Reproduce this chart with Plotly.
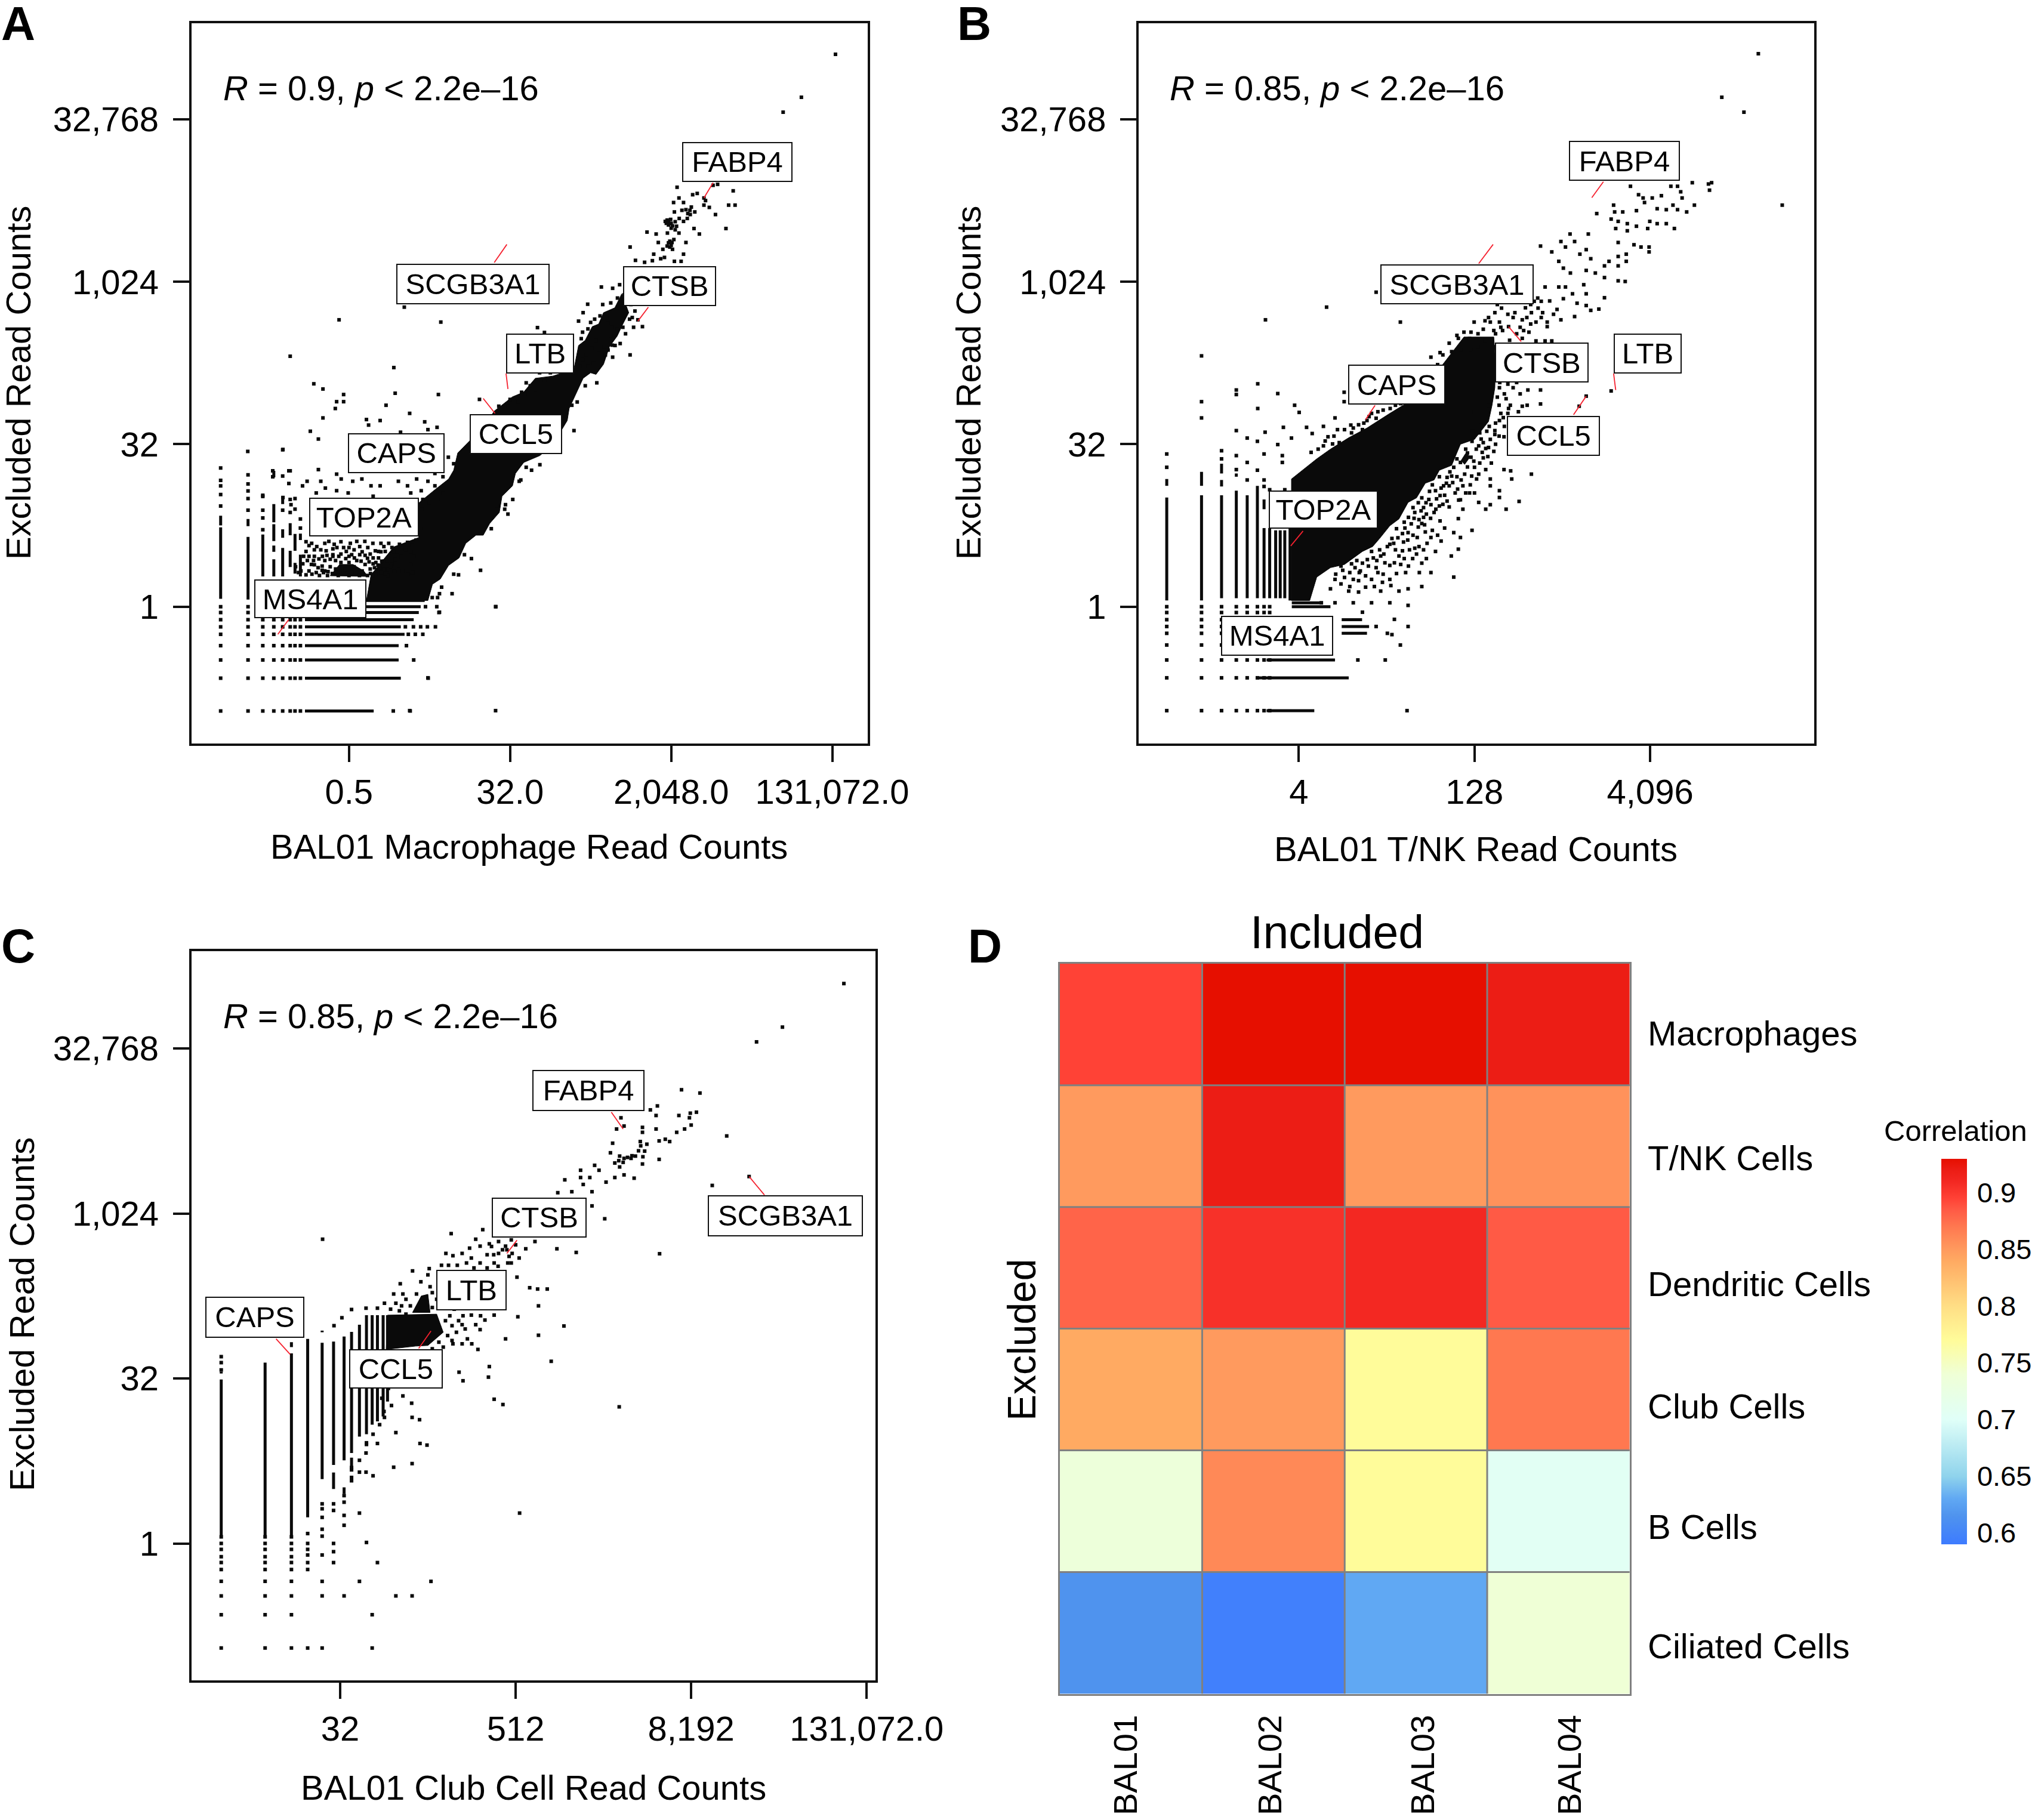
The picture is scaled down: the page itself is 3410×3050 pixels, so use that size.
import plotly.graph_objects as go

W, H = 3410, 3050
FONT = "Liberation Sans"
INK = "#0a0a0a"

# ---------- DATA (log2 read counts) ----------
a_cloud = [(-0.35,0.19),(1.94,0.19),(2.11,0.69),(2.4,0.85),(2.71,1.27),(3.1,1.5),(3.35,1.95),(3.73,2.2),(4.0,2.2),(4.24,2.56),(4.6,2.9),(4.7,3.4),(5.09,3.72),(5.2,4.1),(5.51,4.44),(6.11,4.65),
 (6.6,5.0),(7.13,5.73),(7.2,6.1),(7.47,6.6),(7.72,7.03),(8.0,7.2),(8.2,7.15),(8.48,7.46),(8.7,8.0),(8.99,8.33),(9.2,8.7),(9.42,9.05),(9.16,9.63),(8.9,9.2),(8.48,9.05),(8.3,8.7),(8.06,8.62),(7.8,8.2),(7.55,8.04),
 (7.38,7.32),(6.6,7.1),(5.94,7.03),(5.5,6.6),(5.09,6.46),(4.41,6.02),(4.0,5.5),(3.56,5.16),(3.05,4.73),(2.9,4.2),(2.71,3.93),(2.2,3.6),(1.52,3.14),(1.6,2.13),(0.67,1.84),(-0.18,0.98)]
a_patch = [(-1.7,0.95),(-1.35,1.3),(-0.85,1.3),(-0.45,1.1),(-0.3,0.93)]
a_points = [(17.12,17.0),(15.85,15.68),(15.17,15.22),(11.22,12.91),(12.56,12.97),(12.73,13.0),(13.31,12.8),(11.8,12.68),(11.97,12.72),
 (11.29,12.58),(12.22,12.58),(11.46,12.44),(11.09,12.44),(12.22,12.36),(12.42,12.29),(13.14,12.36),(13.38,12.36),(12.65,12.07),
 (11.88,12.15),(11.55,12.22),(11.12,12.15),(11.71,12.07),(10.78,11.86),(10.95,11.79),(11.2,11.71),(11.46,11.86),(13.04,11.64),
 (12.05,11.47),(11.85,11.64),(10.1,11.53),(10.44,11.47),(10.86,11.5),(11.29,11.5),(11.03,11.21),(11.55,11.21),(10.52,11.21),
 (10.69,11.0),(10.95,11.07),(9.47,11.07),(10.35,10.85),(11.46,10.85),(9.67,10.66),(10.01,10.6),(10.61,10.71),(11.12,10.63),(11.37,10.63),
 (10.85,11.9),(10.9,11.75),(11.0,11.65),(11.1,11.3),(10.9,11.2),(11.3,11.95),(11.6,11.95),(11.4,12.2),(10.75,10.75),(10.3,10.65),
 (10.82,11.8),(10.9,11.86),(11.0,11.8),(11.05,11.72),(10.98,11.92),(11.15,11.85),(11.15,11.6),(10.95,11.25),(11.0,11.12),(10.85,11.1),(11.05,11.0),(11.7,12.2),(11.62,12.1),(12.28,12.5),(11.75,12.3),
 (-1.37,8.83),(2.42,8.76),(1.06,9.22),(-3.19,7.71),(0.67,7.36),(-2.31,6.86),(-1.97,6.7),(-1.2,6.53),(-1.46,6.31),(-1.2,6.31),(-1.51,6.1),
 (0.72,6.57),(2.33,6.53),(0.38,6.2),(1.26,5.95),(-1.97,5.81),(-0.35,5.76),(0.16,5.73),(-0.27,5.59),(1.82,5.69),(1.94,5.45),(2.28,5.52),
 (-2.44,5.4),(0.92,5.37),(-2.14,5.16),(-3.46,4.84),(-4.77,4.78),(6.02,8.59),(6.28,8.44),(8.4,9.84),(8.82,9.8),(9.08,9.91),(7.89,9.31),
 (7.72,9.05),(7.55,8.79),(9.76,8.83),(9.93,8.62),(9.47,7.75),(8.82,7.68),(8.91,8.04),(8.23,6.89),(7.38,5.42),(5.6,4.29),(6.11,4.37),
 (5.34,3.86),(4.83,3.14),(4.92,2.85),(3.56,1.48),(3.9,1.12),(3.08,0.98),(2.84,0.4),(2.37,0.4),(2.37,-0.17),(4.46,0),(1.94,-2.19),
 (4.46,-3.2),(1.26,-3.2),(3.86,6.38),(5.0,6.38),(5.43,6.6),(5.6,6.89),(5.94,6.67),(6.28,6.96),(4.92,6.17),(4.58,6.17),
 (8.6,8.9),(8.8,8.6),(9.2,8.9),(9.5,9.3),(9.0,9.2),(8.2,8.2),(8.5,8.0),(8.8,8.05),(8.1,7.5),(7.9,7.4),(7.7,7.6),(8.3,7.9),(9.2,8.6),
 (8.65,8.72),(8.35,8.95),(8.15,8.85),(8.0,8.75),(7.7,8.45),(7.65,8.25),(7.9,8.55),(8.05,7.95),(7.85,7.75),(7.6,7.4),(8.55,7.75),(8.65,7.9),(8.75,8.35),(9.0,8.55),(9.3,8.4),(9.45,8.85),
 (9.65,9.1),(9.55,8.9),(9.25,9.6),(9.0,9.5),(8.75,9.35),(8.45,9.3),(9.1,8.1),(9.6,8.6),(5.3,6.3),(5.55,6.55),(5.75,6.8),(6.1,7.2),(6.5,7.2),(6.75,7.3),(7.1,7.45),
 (7.8,6.8),(7.5,6.3),(7.3,6.2),(6.9,5.6),(6.5,5.2),(5.8,4.2),(5.4,3.9),(5.1,3.3),(4.8,3.0),(4.5,3.1),(4.3,2.4),(3.3,1.6),(2.9,1.0),
 (-1.46,4.08),(-2.14,4.22),(-1.29,3.93),(-2.05,3.86),(-2.56,3.86),(-2.73,3.72),(-0.86,3.86),(-0.52,3.93),(-0.18,3.72),(0.16,3.72),
 (0.84,3.86),(1.18,3.72),(1.52,3.93),(1.94,3.86),(2.2,3.72),(1.69,3.57),(-1.88,3.65),(-1.46,3.57),(-1.03,3.5),(-2.22,3.5),(-3.24,3.79),
 (-3.24,4.18),(-3.84,4.18),(-3.84,4.0),(-3.46,3.36),(-4.21,3.43),(-3.16,3.14),(1.3,3.5),(1.75,3.3),(2.0,3.2),(2.3,3.3),(2.5,3.5),
 (1.9,4.3),(2.2,4.1),(2.5,4.0),(2.4,4.4),(2.7,4.6),(2.9,4.4),(1.7,3.0),(1.55,2.6),(1.8,2.4),
 (-2.39,1.95),(-2.2,1.85),(-2.49,1.88),(-2.29,1.75),(-2.49,1.55),(-2.29,1.55),(-2.69,1.55),(-1.99,1.55),(-1.9,1.42),(-1.7,1.46),(-1.5,1.42),
 (-1.3,1.62),(-1.0,1.82),(-0.81,1.75),(-1.2,1.82),(-1.45,1.82),(-1.75,2.01),(-0.71,2.01),(-0.41,2.01),(-0.11,1.95),(0.19,1.95),(0.48,1.95),
 (0.88,1.92),(1.18,1.98),(-0.51,1.69),(-0.21,1.62),(0.19,1.69),(0.68,1.69),(-1.0,1.55),(-0.71,1.42),(-0.31,1.49),(0.0,1.36),(-1.3,1.36),
 (-1.0,1.36),(-1.7,1.23),(-1.5,1.16),(-1.2,1.1),(-0.81,1.23),(-0.51,1.1),(-0.21,1.16),(-1.9,1.1),(-1.8,0.96),(-1.4,0.96),(-1.0,0.96),
 (-0.61,0.96),(-0.31,0.96),(0.0,1.0),(0.43,0.96),(-2.29,1.29),(-2.49,1.1),(-2.1,0.96),(-2.79,1.1),(-2.99,1.23),(0.3,1.4),(0.6,1.3),(0.1,1.7),
 (1.2,1.0),(1.4,3.2),(0.9,3.0),(0.4,3.3),(-0.1,3.4),(-0.6,3.2),(-1.15,1.15),(-1.6,1.6),(-0.9,1.05),(-0.4,1.3),
 (-2.05,1.75),(-1.85,1.72),(-1.6,1.78),(-1.1,1.7),(-0.9,1.6),(-0.6,1.6),(-0.1,1.5),(0.1,1.5),(0.35,1.7),(0.5,1.55),(0.8,1.7),(-2.6,1.7),(-2.4,1.3),(-2.15,1.2),(-2.0,1.25),(-1.95,1.05),
 (0.15,1.2),(0.3,1.15),(0.45,1.15),(0.55,1.1),(-0.05,1.2),(0.2,1.05),(1.0,1.1),(1.05,1.5),(1.25,1.5),(1.3,1.3),(1.1,1.75),(1.35,1.9),(1.4,2.5),(1.45,2.9),(1.2,2.8),(1.35,2.3),
 (-2.55,1.42),(-2.32,1.42),(-2.12,1.47),(-1.82,1.58),(-1.6,1.55),(-1.38,1.55),(-1.12,1.48),(-0.8,1.5),(-0.55,1.4),(-0.4,1.58),(-0.25,1.38),(-0.1,1.32),(0.08,1.28),(0.22,1.4),(0.42,1.42),(0.72,1.45),
 (0.85,1.25),(0.7,1.08),(0.55,1.25),(0.35,1.02),(-0.2,1.02),(-0.12,0.96),(-1.62,1.02),(-1.78,1.08),(-2.0,1.12),(-2.22,1.05),(-2.38,1.0),(-2.6,0.98),(-2.72,1.32),(-2.88,1.05),(-2.6,2.0),(-1.9,1.95),
 (-1.55,1.92),(-1.3,2.0),(-0.95,1.95),(-0.6,1.85),(-0.3,1.82),(-0.02,1.72),(0.3,1.85),(0.6,1.82),(0.95,1.55),(1.3,1.7),(1.42,1.55),(1.38,1.05),(1.5,2.05),
 (0.65,-3.21),(1.28,-3.21),(1.95,-2.2),(1.41,-1.64),(1.14,-1.2),(1.21,-0.85),(1.47,-0.85),(1.75,-0.85),(1.1,-0.62),(1.4,-0.62),(1.67,-0.62),
 (1.92,-0.62),(2.22,-0.62),(2.35,-0.18),(1.85,0),(2.27,0),(4.47,0),(2.1,0.28),(2.3,0.28),(2.45,0.6)]
a_col_x = [-5.78,-4.76,-4.21,-3.80,-3.47,-3.19,-3.01,-2.81]
a_row_y = [-3.21,-2.2,-1.64,-1.2,-0.85,-0.62,-0.4,-0.18,0.0]
a_col_spans = [[(0.24,2.44),(2.5,2.8)],[(0.22,2.15),(2.48,2.7)],[(0.93,2.22)],[(0.93,1.46),(1.69,1.88),(2.02,2.54),(2.6,3.16),(3.98,4.18)],
 [(0.93,1.81),(2.12,2.38),(3.16,3.39)],[(1.22,1.72),(2.2,2.57)],[(1.02,1.35),(1.72,2.24)],[(0.93,1.6),(2.05,2.25)]]
a_col_dots = [(-5.78,3.1),(-5.78,3.45),(-5.78,3.72),(-5.78,3.89),(-5.78,4.27),(-4.76,2.97),(-4.76,3.33),(-4.76,3.56),(-4.76,3.78),(-4.76,4.06),
 (-4.21,2.37),(-4.21,2.73),(-4.21,2.97),(-4.21,3.39),(-3.47,4.02),(-3.47,4.83),(-3.47,2.97),(-3.19,4.18),(-3.19,3.3),(-3.19,2.9),(-3.01,3.33),(-3.01,3.0),(-2.81,2.7),(-2.81,2.42)]
a_row_ends = [-0.08,0.93,0.85,0.85,1.07,0.93,1.41,1.6,1.67]

b_cloud = [(1.79,0.19),(2.31,0.19),(2.51,0.91),(2.9,1.2),(3.3,1.3),(3.81,1.7),(4.1,1.85),(4.3,2.1),(4.59,2.49),(4.85,2.7),(5.11,3.21),(5.35,3.35),(5.6,3.8),(5.85,3.9),(6.0,4.2),(6.35,4.35),(6.6,5.0),(7.0,5.15),(7.4,5.7),(7.5,6.2),(7.58,6.74),
 (7.6,7.5),(7.55,8.3),(6.7,8.3),(6.2,7.6),(5.7,6.9),(5.2,6.35),(4.59,5.95),(3.94,5.5),(3.42,5.2),(2.9,4.85),(2.51,4.55),(1.79,3.93)]
b_patch = [(6.62,4.5),(6.75,4.72),(6.88,4.62),(6.72,4.38)]
b_points = [(15.08,17.02),(14.04,15.68),(14.67,15.22),(15.76,12.36),(13.66,13.01),(13.75,13.05),(13.69,12.82),(13.2,13.05),(12.78,12.94),(12.59,12.94),
 (12.87,12.77),(12.91,12.58),(11.44,12.94),(11.67,12.68),(11.8,12.58),(11.84,12.44),(12.06,12.58),(12.32,12.65),(13.26,12.36),(12.65,12.36),
 (12.46,12.22),(12.2,12.25),(12.78,12.22),(13.04,12.15),(11.61,12.19),(10.96,12.36),(10.99,12.15),(11.22,12.15),(10.48,12.1),(10.89,11.93),
 (11.09,11.86),(11.35,11.79),(11.61,11.71),(11.93,11.64),(12.2,11.79),(12.46,11.79),(12.69,11.64),(11.99,11.86),(11.35,11.57),(11.02,11.64),
 (11.09,11.21),(11.54,11.14),(11.74,11.07),(11.97,11.07),(11.97,10.92),(10.24,11.47),(9.72,11.47),(9.46,11.24),(9.85,11.24),(8.88,11.1),(9.2,10.92),
 (9.59,11.07),(10.18,10.99),(10.0,10.85),(10.31,10.71),(11.32,10.85),(11.09,10.78),(10.83,10.63),(9.4,10.63),(9.53,10.42),(10.7,10.49),(11.09,10.49),
 (11.32,10.63),(10.18,10.35),(10.44,10.27),(9.73,10.27),(11.09,10.03),(11.29,10.01),(10.7,10.13),(9.4,9.84),(9.59,9.84),(9.01,9.84),(10.11,9.91),
 (9.79,9.63),(10.18,9.63),(10.7,9.51),(9.53,9.48),(9.14,9.41),(9.92,9.34),(10.18,9.27),(10.54,9.16),(10.31,9.12),(9.85,8.93),(9.46,8.83),(9.07,8.76),
 (8.81,9.19),(8.62,9.05),(8.49,8.9),(8.94,9.05),(9.07,8.62),(8.75,8.76),(8.36,8.83),(8.1,8.9),(7.77,9.19),(7.58,9.05),(7.45,8.76),(7.71,8.76),(6.99,8.76),
 (7.25,8.54),(7.97,8.62),(8.36,8.26),(8.75,8.18),(9.01,8.18),(9.2,8.18),(2.79,9.22),(1.05,8.83),(4.89,8.76),(4.2,9.68),(-0.77,7.72),(-0.77,6.31),
 (-0.77,5.81),(0.22,6.67),(0.22,6.53),(0.83,6.86),(1.4,6.56),(0.83,6.1),(1.88,6.2),(2.01,5.98),(0.22,5.42),(0.53,5.19),(0.82,5.09),(1.04,5.37),
 (1.56,5.52),(2.22,5.52),(2.38,5.33),(2.7,5.55),(1.4,4.99),(1.79,5.19),(1.01,4.7),(1.53,4.65),(1.53,4.44),(3.29,6.6),(3.29,6.31),(3.48,5.59),(3.03,5.81),
 (2.83,5.23),(3.68,5.23),(3.81,5.45),(4.07,5.95),(3.94,5.73),(2.96,5.01),(5.76,7.68),(6.28,8.11),(6.54,8.26),(6.86,8.26),(6.02,7.82),(8.1,6.74),(8.52,6.67),
 (8.88,6.67),(8.88,6.24),(8.36,6.17),(7.97,6.1),(10.18,6.48),(9.98,6.17),(10.89,6.64),(7.71,6.74),(7.71,5.73),(7.58,5.3),(7.84,5.23),(7.19,5.59),(7.19,5.16),
 (6.93,5.09),(7.32,4.87),(6.8,4.73),(7.25,4.58),(7.0,4.29),(6.6,4.44),(7.32,4.22),(7.84,4.22),(8.03,4.18),(8.62,4.08),(7.45,3.93),(8.06,3.93),(7.06,3.93),
 (6.41,4.29),(6.28,3.72),(6.67,3.72),(7.45,3.72),(7.0,3.5),(7.71,3.57),(6.86,3.5),(7.71,3.36),(7.45,3.14),(8.27,3.24),(7.9,3.0),(7.32,3.0),(7.12,3.21),
 (6.6,3.29),(6.15,3.43),(5.89,3.57),(5.76,3.14),(6.28,3.07),(6.67,3.0),(6.54,2.71),(5.63,2.85),(6.02,2.64),(5.5,2.56),(6.15,2.42),(6.93,2.35),(6.41,2.28),
 (6.6,2.13),(5.11,2.28),(5.76,2.13),(5.37,2.13),(4.98,1.99),(4.59,1.92),(6.54,1.77),(6.34,1.56),(5.89,1.7),(5.63,1.48),(5.5,1.34),(5.24,1.48),(4.85,1.56),
 (4.33,1.56),(4.07,1.7),(3.81,1.34),(4.2,1.2),(4.59,1.27),(5.04,1.05),(5.43,1.05),(5.76,1.05),(6.41,0.91),(4.59,0.84),(4.07,0.84),(3.55,0.84),(3.03,0.84),
 (5.11,0.55),(5.5,0.62),(4.85,0.48),(4.33,0.48),(3.42,0.48),(2.9,0.55),(5.11,0.04),(4.59,0.12),(4.07,0.12),(3.55,0.12),(3.03,0.12),(2.64,0.12),(3.81,-0.17),
 (4.72,-0.39),(5.11,-0.61),(4.2,-0.61),(4.52,-0.82),(4.65,-0.86),(4.89,-1.18),(4.46,-1.64),(3.68,-1.64),(5.08,-3.2),
 (3.6,1.2),(3.3,0.9),(3.9,0.6),(4.4,1.0),(4.9,1.3),(5.3,1.8),(5.6,2.3),(5.0,2.6),(5.3,2.9),(5.7,3.3),(6.0,3.1),(6.2,3.8),(6.5,4.0),(6.8,4.3),(7.4,4.9),(7.6,5.0),
 (7.0,6.0),(7.4,6.2),(7.9,6.4),(7.6,7.0),(7.8,7.2),(8.0,7.5),(7.9,7.9),(8.0,8.2),(7.6,8.0),(7.3,8.2),(7.1,8.0),(6.9,7.9),(6.6,7.9),(7.6,8.4),(8.2,8.4),(7.8,8.5),
 (3.2,1.25),(3.45,1.05),(3.75,1.1),(3.95,1.45),(4.3,1.75),(4.65,2.1),(4.75,1.75),(4.95,2.25),(5.15,1.75),(5.4,2.45),(5.2,2.55),(5.55,2.75),(5.4,3.2),(5.55,3.05),(5.9,3.0),(5.8,3.75),
 (6.05,3.65),(6.0,4.0),(6.3,4.15),(6.45,3.5),(6.5,4.55),(6.75,4.85),(6.9,4.6),(7.05,4.85),(6.95,5.4),(7.15,5.35),(7.35,5.4),(7.45,5.15),(7.6,5.65),(7.75,5.95),(7.85,5.55),(7.7,6.2),
 (7.65,6.45),(7.85,6.55),(7.95,6.85),(7.72,6.9),(8.2,6.9),(8.05,7.1),(8.3,6.55),(8.5,6.2),(8.25,6.0),(8.1,5.75),
 (2.35,4.75),(2.55,4.85),(2.7,4.95),(2.75,5.1),(3.0,5.25),(3.15,5.05),(3.1,5.45),(3.3,5.45),(3.55,5.5),(3.5,5.35),(3.7,5.6),(3.85,5.65),(4.0,5.85),(4.2,5.8),(4.25,6.0),(4.4,6.05),(4.6,6.1),
 (4.75,6.2),(4.9,6.25),(5.1,6.4),(5.3,6.6),(5.45,6.85),(5.6,7.05),(5.85,7.2),(5.95,7.45),(6.1,7.75),(6.35,7.85),(6.5,8.35),(6.7,8.45),(6.9,8.45),(7.1,8.4),
 (7.4,8.9),(7.55,8.5),(7.95,9.0),(8.15,9.05),(8.3,8.6),(8.45,9.2),(8.6,9.3),(8.7,9.4),(8.8,9.5),(8.9,9.4),(7.65,9.3),(7.85,9.45),(7.75,8.6),(7.3,8.8),(8.4,8.5),(8.55,8.45),(8.6,8.7),(8.9,8.9),(9.25,9.0),(9.35,9.15),
 (3.05,1.0),(3.25,1.12),(3.5,1.32),(3.65,1.42),(3.72,1.05),(3.98,1.25),(4.12,1.5),(4.22,1.42),(4.42,1.62),(4.52,1.85),(4.45,1.35),(4.7,1.95),(4.82,2.12),(4.78,2.4),(5.02,2.42),(4.95,1.72),
 (5.1,2.05),(5.25,2.2),(5.12,2.75),(5.28,2.72),(5.42,2.68),(5.48,2.95),(5.25,3.05),(5.5,3.35),(5.62,3.2),(5.72,3.55),(5.58,2.52),(5.75,2.72),(5.85,2.9),(5.92,3.32),(6.02,3.42),(6.12,3.72),
 (6.22,3.98),(6.1,3.15),(6.22,3.25),(6.38,3.82),(6.52,3.62),(6.35,4.02),(6.62,3.9),(6.72,4.08),(6.55,3.28),(6.75,3.5),(6.88,3.75),(6.92,4.02),(7.12,4.08),(7.15,4.42),(6.98,4.48),(7.22,4.75),
 (7.38,4.62),(7.48,4.42),(7.55,4.78),(7.12,4.95),(7.25,5.05),(7.58,5.42),(7.7,5.25),(7.42,5.55),(7.82,5.82),(7.95,5.95),(8.02,6.2),(7.98,5.5),(4.25,1.05),(4.72,1.35),(5.0,1.48),(5.12,1.25),
 (5.35,1.62),(5.42,1.85),(5.55,1.75),(5.65,1.95),(5.8,2.35),(5.95,2.2),(6.05,2.02),(3.7,0.8),(3.9,0.95),(4.15,0.62),(4.38,0.75),(4.62,0.65),(4.78,1.02),(3.2,0.7),(3.45,0.62),(3.7,0.45)]
b_col_x = [-1.76,-0.77,-0.2,0.22,0.53,0.82,1.01,1.17,1.34,1.47,1.6,1.75]
b_row_y = [-3.2,-2.19,-1.64,-1.18,-0.82,-0.61,-0.4,-0.18,0.0]
b_col_spans = [[(0.19,3.36),(3.72,3.93)],[(0.19,3.43),(3.72,4.15)],[(0.26,3.43),(3.7,3.9),(4.1,4.4)],[(0.26,3.57),(4.0,4.1)],[(0.26,3.43)],[(0.26,3.72)],
 [(0.26,2.42),(3.0,3.3)],[(0.26,2.42)],[(0.26,2.35)],[(0.26,2.35)],[(0.26,2.35)],[(0.19,2.42)]]
b_col_dots = [(-1.76,4.29),(-1.76,4.7),(-0.2,4.8),(-0.2,4.55),(0.22,4.65),(0.22,4.22),(0.53,4.44),(0.53,3.9),(0.82,4.2),(1.01,3.7),(1.01,3.9),(1.17,3.6),(1.34,3.0),(1.47,3.3),(1.6,3.6)]
b_rows_dash = [(-3.2,1.08,2.44),(-2.19,0.82,3.42),(-1.64,1.08,3.03),(-0.82,3.22,3.94),(-0.61,3.22,4.0),(-0.4,3.22,3.8),(0.0,1.8,2.9),(0.12,1.8,2.6)]

c_cloud = [(6.08,6.92),(7.2,6.95),(7.35,6.4),(7.0,6.0),(6.72,5.98),(6.05,5.88)]
c_patch = [(6.65,7.0),(6.85,7.5),(7.0,7.55),(7.05,7.0)]
c_points = [(16.48,16.97),(15.08,15.65),(14.49,15.2),(13.2,13.65),(12.78,13.75),(13.81,12.35),(14.32,11.12),(13.48,10.85),(13.12,13.07),(12.98,13.04),(13.0,12.68),
 (12.96,12.9),(12.72,12.97),(12.67,12.46),(12.85,12.56),(12.23,13.26),(12.07,13.14),(12.2,12.97),(12.2,12.56),(11.89,12.61),(11.89,12.46),(12.41,12.25),(12.27,12.2),
 (12.51,12.18),(11.84,12.18),(11.99,12.1),(11.94,11.89),(11.73,11.74),(11.63,11.67),(11.47,11.67),(11.37,11.74),(11.21,12.13),(11.16,11.84),(11.26,11.53),(11.37,11.41),
 (11.89,11.5),(12.27,11.64),(11.4,12.9),(11.47,12.65),(11.3,12.56),(11.7,11.07),(11.47,11.17),(11.26,11.09),(11.06,10.95),(10.9,11.31),(10.8,11.46),(10.69,11.09),
 (10.48,11.31),(10.48,11.09),(10.12,11.02),(10.54,10.88),(10.74,10.66),(10.28,10.66),(9.96,10.63),(10.74,10.23),(11.03,9.84),(10.38,8.82),(9.94,8.93),(9.44,9.15),
 (12.28,8.78),(4.6,9.22),(7.53,9.39),(8.25,9.51),(8.09,9.22),(8.19,9.01),(8.4,9.08),(8.61,9.15),(8.77,9.01),(8.92,8.79),(8.61,8.79),(9.08,8.65),(9.23,8.93),(8.82,8.5),
 (8.51,8.5),(8.19,8.5),(7.99,8.65),(7.78,8.79),(7.88,8.5),(7.57,8.72),(7.41,8.79),(7.47,8.43),(7.67,8.43),(7.31,8.43),(9.03,8.07),(7.03,8.33),(6.65,8.26),(7.0,8.14),
 (6.37,7.87),(6.84,7.93),(7.05,7.78),(6.43,7.56),(6.22,7.56),(6.74,7.56),(6.01,7.28),(6.27,7.28),(5.59,7.13),(5.85,7.13),(5.26,7.09),(5.04,6.84),(4.86,6.6),(9.32,7.75),
 (9.5,7.71),(9.72,7.71),(9.52,7.2),(9.05,6.87),(10.1,6.59),(8.77,6.2),(9.52,6.31),(9.81,5.52),(8.51,6.92),(8.3,6.77),(8.09,6.63),(7.78,6.63),(7.99,6.92),(8.19,6.48),
 (7.78,6.05),(7.57,6.05),(8.14,5.88),(7.71,5.19),(7.8,4.93),(8.4,5.36),(8.38,5.04),(8.51,4.37),(8.71,4.21),(11.36,4.14),(6.63,4.25),(6.43,4.47),(6.17,4.18),(6.64,3.82),
 (6.81,3.75),(6.01,3.82),(6.27,3.36),(5.75,3.31),(6.82,3.03),(6.98,2.98),(5.85,3.03),(5.59,2.74),(5.44,2.52),(5.26,2.23),(5.44,2.16),(5.75,2.05),(5.59,2.16),(6.22,2.31),
 (6.64,2.42),(5.26,1.9),(5.44,0.92),(9.09,0.92),(5.6,0.03),(5.85,-0.58),(7.07,-1.15),(5.44,-1.15),(6.27,-1.59),(6.64,-1.59),(5.09,-1.59),(4.59,-1.59),(5.73,-2.16),(5.73,-3.17),
 (4.26,-3.17),(4.59,-3.17),(4.26,-0.79),(4.26,-0.58),(4.26,-0.35),(4.26,-0.18),(4.26,0.0),(4.26,0.3),(4.59,-1.15),(4.59,-0.35),(4.85,-0.58),(4.85,-0.25),(4.85,0.0),
 (4.59,1.2),(4.59,1.05),(4.59,0.79),(4.59,0.43),(4.59,0.22),(4.85,1.2),(4.85,1.0),(5.09,1.45),(5.09,1.25),(5.09,0.85),(5.09,0.55),(5.26,2.0),(5.26,2.3),(5.6,3.05),(5.6,3.0),
 (7.9,7.3),(7.6,7.1),(7.8,6.9),(8.2,6.9),(7.9,6.2),(8.0,6.05),(7.4,7.3),(7.2,7.4),(6.9,7.45),(7.1,7.6),(6.6,7.2),(6.4,7.2),(7.3,7.7),(8.8,8.9),(8.9,9.2),(8.6,8.4),
 (6.2,5.6),(6.1,5.4),(6.4,5.2),(6.3,4.8),(6.5,4.9),(6.1,4.7),(5.95,4.4),(6.0,4.0),(5.9,3.6),
 (7.4,6.75),(7.5,6.9),(7.55,6.6),(7.45,6.3),(7.65,6.4),(7.7,6.75),(7.25,6.1),(7.35,5.95),(7.1,5.9),(7.55,6.15),(7.85,6.5),(6.5,6.95),(6.35,7.05),(6.15,7.1),(7.1,7.15),(7.25,7.15),(6.5,7.4),
 (8.35,8.75),(8.5,8.75),(8.7,8.9),(8.85,8.7),(8.9,8.5),(8.45,9.0),(9.0,9.05),(7.95,8.95),(8.05,8.35),(8.35,8.35),(11.55,11.7),(11.45,11.55),(11.65,11.75),(11.8,11.9),(11.85,12.05),(11.9,11.72),(11.35,11.6)]
c_col_x = [2.29,3.29,3.89,4.26,4.59,4.85,5.09,5.26,5.44,5.6,5.73,5.85,5.98,6.08]
c_row_y = [-3.17,-2.16,-1.59,-1.15,-0.79,-0.58,-0.4,-0.18,0.0,0.2]
c_col_spans = [[(0.22,4.97),(5.15,5.2)],[(0.22,5.48)],[(0.22,5.76),(5.95,6.1)],[(0.79,6.2)],[(1.95,6.08),(6.4,6.45)],[(2.38,6.12),(1.65,2.15)],[(2.52,6.27),(1.5,1.7)],
 [(2.74,6.41),(2.3,2.6)],[(3.24,6.63)],[(3.31,6.92)],[(3.6,6.92)],[(3.7,6.92)],[(3.85,6.92)],[(4.3,6.92)]]
c_col_dots = [(2.29,5.66),(2.29,5.48),(2.29,5.26)]

genes_a = ["FABP4","SCGB3A1","CTSB","LTB","CCL5","CAPS","TOP2A","MS4A1"]
genes_b = ["FABP4","SCGB3A1","CTSB","LTB","CAPS","CCL5","TOP2A","MS4A1"]
genes_c = ["FABP4","SCGB3A1","CTSB","LTB","CAPS","CCL5"]
lead_a = [((12.56,13.05),(12.22,12.58)),((4.88,11.15),(4.41,10.59)),((10.15,9.22),(9.76,8.79)),((4.85,7.18),(4.92,6.7)),((4.44,5.95),(4.0,6.41)),((-3.24,-0.39),(-3.65,-0.85))]
lead_b = [((10.67,13.08),(10.34,12.59)),((7.53,11.15),(7.12,10.56)),((8.33,8.16),(7.97,8.62)),((10.96,7.18),(11.02,6.67)),((4.17,6.2),(3.9,5.76)),((10.18,6.48),(9.82,5.91)),((2.12,2.33),(1.77,1.87))]
lead_c = [((11.18,13.07),(11.45,12.56)),((14.67,10.56),(14.32,11.12)),((9.03,9.19),(8.8,8.79)),((3.54,6.2),(3.86,5.73)),((7.07,6.44),(6.79,5.91))]

heat_x = ["BAL01","BAL02","BAL03","BAL04"]
heat_y = ["Macrophages","T/NK Cells","Dendritic Cells","Club Cells","B Cells","Ciliated Cells"]
heat_z = [[0.895,0.93,0.93,0.92],[0.85,0.92,0.85,0.855],[0.88,0.905,0.91,0.885],
          [0.84,0.85,0.77,0.87],[0.735,0.86,0.77,0.705],[0.615,0.595,0.63,0.74]]
heat_ticks = [0.6,0.65,0.7,0.75,0.8,0.85,0.9]
heat_scale = [(0,"#3D7BFF"),(0.0735,"#4F93EE"),(0.118,"#60A8F3"),(0.176,"#8FD3EC"),(0.324,"#E0FFF8"),(0.441,"#EFFFD6"),
 (0.529,"#FFFC9A"),(0.618,"#FFDE85"),(0.735,"#FFAA62"),(0.765,"#FF9A5E"),(0.824,"#FF7850"),(0.868,"#FF5A45"),(0.897,"#FF4236"),
 (0.941,"#F32822"),(0.971,"#EC1D15"),(1,"#E60F00")]

# ---------- FIGURE ----------
fig = go.Figure()
px = lambda v: v / W
py = lambda v: 1 - v / H
ann = []

def text(s, x, y, size, angle=0, xa="center", ya="middle", bold=False):
    ann.append(dict(text=f"<b>{s}</b>" if bold else s, x=px(x), y=py(y), xref="paper", yref="paper", showarrow=False,
                    textangle=angle, xanchor=xa, yanchor=ya, font=dict(family=FONT, size=size, color="#000")))

def panel(n, box, xr, yr, xt, xl):
    xa, ya = ("xaxis" + str(n), "yaxis" + str(n))
    base = dict(showgrid=False, zeroline=False, showline=True, mirror=True, linewidth=4, linecolor="#111", ticks="outside",
                ticklen=27, tickwidth=4, tickcolor="#111", tickfont=dict(family=FONT, size=58, color="#000"))
    fig.layout[xa] = dict(base, domain=[px(box[0]), px(box[1])], range=xr, tickvals=xt, ticktext=xl, ticklabelstandoff=0, anchor="y" + str(n))
    fig.layout[ya] = dict(base, domain=[py(box[3]), py(box[2])], range=yr, tickvals=[0,5,10,15], ticktext=["1","32","1,024","32,768"], ticklabelstandoff=12, anchor="x" + str(n))

def marks(n, cloud, patch, pts, col_x, row_y, spans, col_dots, row_lines, leads):
    ref = dict(xaxis="x" + str(n), yaxis="y" + str(n), showlegend=False, hoverinfo="skip")
    fx, fy = [], []
    for poly in (cloud, patch):
        fx += [p[0] for p in poly] + [poly[0][0], None]
        fy += [p[1] for p in poly] + [poly[0][1], None]
    fig.add_trace(go.Scatter(x=fx, y=fy, mode="lines", fill="toself", fillcolor=INK, line=dict(color=INK, width=1), **ref))
    vx, vy = [], []
    for x, ss in zip(col_x, spans):
        for lo, hi in ss:
            vx += [x, x, None]; vy += [lo, hi, None]
    fig.add_trace(go.Scatter(x=vx, y=vy, mode="lines", line=dict(color=INK, width=5), **ref))
    hx, hy = [], []
    for y, x0, x1 in row_lines:
        hx += [x0, x1, None]; hy += [y, y, None]
    fig.add_trace(go.Scatter(x=hx, y=hy, mode="lines", line=dict(color=INK, width=5), **ref))
    dx = [x for x in col_x[:8 if n != 3 else 3] for _ in row_y] + [p[0] for p in col_dots] + [p[0] for p in pts]
    dy = [y for _ in col_x[:8 if n != 3 else 3] for y in row_y] + [p[1] for p in col_dots] + [p[1] for p in pts]
    fig.add_trace(go.Scatter(x=dx, y=dy, mode="markers", marker=dict(symbol="square", size=6, color=INK, line=dict(width=0)), **ref))
    lx, ly = [], []
    for a, b in leads:
        lx += [a[0], b[0], None]; ly += [a[1], b[1], None]
    fig.add_trace(go.Scatter(x=lx, y=ly, mode="lines", line=dict(color="#F5212F", width=1.8), **ref))

def labels(names, boxes, ox, oy, sx, sy):
    for name, (x0, x1, y0, y1) in zip(names, boxes):
        ann.append(dict(text=name, xref="paper", yref="paper", x=px(ox + (x0 + x1) / 2 / sx), y=py(oy + (y0 + y1) / 2 / sy),
                        xanchor="center", yanchor="middle", showarrow=False, bgcolor="#fff", bordercolor="#111", borderwidth=2, borderpad=0,
                        width=(x1 - x0) / sx - 4, height=(y1 - y0) / sy - 4, align="center", valign="middle",
                        font=dict(family=FONT, size=49, color="#000")))

# Panel A
panel(1, (320.7,1454,39.4,1245.9), [-6.87,18.32], [-4.21,17.95], [-1,5,11,17], ["0.5","32.0","2,048.0","131,072.0"])
a_rows = [(y,-2.64,e) for y,e in zip(a_row_y,a_row_ends)] + [(0.19,-2.64,1.82)]
marks(1, a_cloud, a_patch, a_points, a_col_x, a_row_y, a_col_spans, a_col_dots, a_rows, lead_a)
labels(genes_a, [(1101,1343,266,351),(475,811,525,612),(972,1176,530,615),(716,865,675,760),(637,839,847,932),(369,581,888,973),(285,525,1025,1108),(165,411,1199,1282)], 300, 30, 1.3067, 1.2748)
# Panel B
panel(2, (1908,3040,39.4,1245.9), [-2.56,16.67], [-4.21,17.95], [2,7,12], ["4","128","4,096"])
b_rows = list(b_rows_dash)
marks(2, b_cloud, b_patch, b_points, b_col_x, b_row_y, b_col_spans, b_col_dots, b_rows, lead_b)
labels(genes_b, [(952,1195,262,348),(540,876,526,612),(790,995,693,779),(1051,1200,675,760),(469,682,740,826),(816,1020,850,935),(295,534,1010,1092),(190,436,1277,1362)], 1900, 30, 1.3067, 1.2748)
# Panel C
panel(3, (320.7,1467,1594,2816), [1.61,17.2], [-4.15,17.95], [5,9,13,17], ["32","512","8,192","131,072.0"])
marks(3, c_cloud, c_patch, c_points, c_col_x, c_row_y, c_col_spans, c_col_dots, [], lead_c)
labels(genes_c, [(773,1019,255,341),(1158,1498,518,604),(685,893,523,607),(563,717,675,760),(58,275,732,818),(373,578,842,925)], 300, 1590, 1.3067, 1.2544)

# Panel D
fig.add_trace(go.Heatmap(z=heat_z, x=list(range(4)), y=list(range(6)), xaxis="x4", yaxis="y4", zmin=0.59, zmax=0.93, colorscale=heat_scale, hoverinfo="skip",
    colorbar=dict(thickness=43, thicknessmode="pixels", len=645.5/H, lenmode="fraction", x=3252.7/W, xanchor="left", xpad=0, ypad=0,
                  y=1-(1941.9+2587.4)/2/H, yanchor="middle", outlinewidth=0, tickvals=heat_ticks, ticktext=[str(t) for t in heat_ticks],
                  ticks="outside", ticklen=8, tickcolor="rgba(0,0,0,0)", tickfont=dict(family=FONT, size=47, color="#000"))))
gx = [v for i in range(1,4) for v in (i-0.5,i-0.5,None)] + [v for j in range(1,6) for v in (-0.5,3.5,None)]
gy = [v for i in range(1,4) for v in (-0.5,5.5,None)] + [v for j in range(1,6) for v in (j-0.5,j-0.5,None)]
fig.add_trace(go.Scatter(x=gx, y=gy, mode="lines", xaxis="x4", yaxis="y4", line=dict(color="#808080", width=3), showlegend=False, hoverinfo="skip"))
hax = dict(showgrid=False, zeroline=False, showticklabels=False, ticks="", showline=True, mirror=True, linewidth=3, linecolor="#808080")
fig.layout.xaxis4 = dict(hax, domain=[px(1775.7),px(2730.8)], range=[-0.5,3.5], anchor="y4")
fig.layout.yaxis4 = dict(hax, domain=[py(2838.5),py(1614.7)], range=[5.5,-0.5], anchor="x4")
for name, y in zip(heat_y, [1731,1940,2151,2356,2558,2758]):
    text(name, 2759, y, 58, xa="left")
for name, x in zip(heat_x, [1885,2127,2383,2629]):
    text(name, x, 2872, 56, angle=-90, ya="top")
text("Included", 2240, 1562, 77)
text("Excluded", 1712, 2245, 66, angle=-90)
text("Correlation", 3277, 1895, 49)

# Text
text("<i>R</i> = 0.9, <i>p</i> &lt; 2.2e–16", 372, 148, 58, xa="left")
text("<i>R</i> = 0.85, <i>p</i> &lt; 2.2e–16", 1958, 148, 58, xa="left")
text("<i>R</i> = 0.85, <i>p</i> &lt; 2.2e–16", 372, 1703, 58, xa="left")
text("BAL01 Macrophage Read Counts", 886, 1418, 58)
text("BAL01 T/NK Read Counts", 2473, 1422, 58)
text("BAL01 Club Cell Read Counts", 894, 2995, 58)
text("Excluded Read Counts", 30, 642, 58, angle=-90)
text("Excluded Read Counts", 1622, 642, 58, angle=-90)
text("Excluded Read Counts", 36, 2203, 58, angle=-90)
text("A", 30, 40, 79, bold=True)
text("B", 1632, 40, 79, bold=True)
text("C", 30, 1585, 79, bold=True)
text("D", 1650, 1585, 79, bold=True)

fig.update_layout(width=W, height=H, autosize=False, margin=dict(l=0,r=0,t=0,b=0,autoexpand=False), paper_bgcolor="#fff", plot_bgcolor="#fff",
                  showlegend=False, annotations=ann)
fig.write_html("out.html", config={"displayModeBar": False}, post_script="document.body.style.margin='0';document.body.style.overflow='hidden';")
